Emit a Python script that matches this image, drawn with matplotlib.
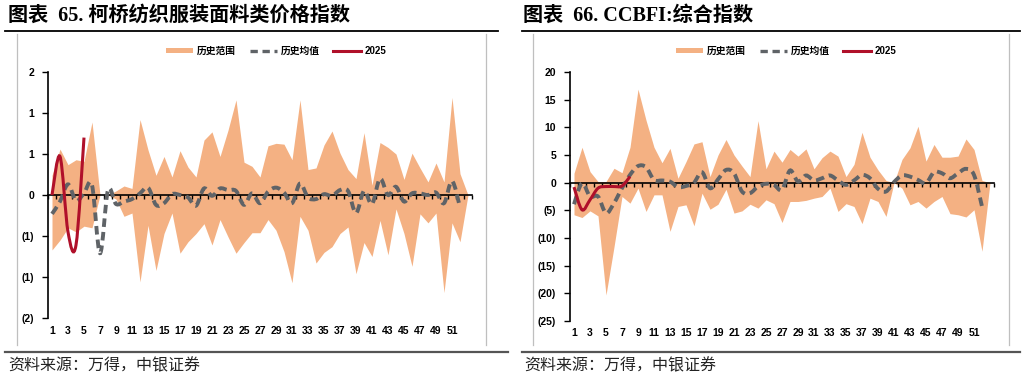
import matplotlib
matplotlib.use("Agg")
import matplotlib.pyplot as plt
import numpy as np
from matplotlib.path import Path
from matplotlib.patches import PathPatch
from matplotlib.lines import Line2D
from matplotlib.patches import Patch

# ---------------- data ----------------
weeks = list(range(1, 54))

# Left: 柯桥纺织服装面料类价格指数 (weekly change)
left_upper = [0.24, 0.56, 0.37, 0.43, 0.41, 0.89, 0.0, 0.0, 0.05, 0.11, 0.08, 0.92, 0.55, 0.24, 0.47,
              0.22, 0.54, 0.34, 0.22, 0.67, 0.77, 0.47, 0.79, 1.16, 0.40, 0.35, 0.22, 0.60, 0.63, 0.62,
              0.43, 1.16, 0.31, 0.33, 0.61, 0.78, 0.51, 0.31, 0.20, 0.76, 0.12, 0.64, 0.58, 0.50, 0.19,
              0.51, 0.33, 0.16, 0.39, 0.16, 1.19, 0.26, 0.0]
left_lower = [-0.67, -0.55, -0.40, -0.45, -0.38, -0.40, 0.0, 0.0, -0.05, -0.26, -0.22, -1.06, -0.37, -0.92, -0.47,
              -0.22, -0.71, -0.57, -0.47, -0.35, -0.61, -0.30, -0.51, -0.71, -0.58, -0.46, -0.46, -0.30, -0.43, -0.69,
              -1.07, -0.26, -0.43, -0.83, -0.70, -0.63, -0.47, -0.39, -0.96, -0.58, -0.75, -0.31, -0.73, -0.17, -0.47,
              -0.87, -0.23, -0.34, -0.22, -1.19, -0.34, -0.57, 0.0]
left_mean = [-0.23, -0.08, 0.13, -0.07, 0.02, 0.12, -0.71, 0.06, -0.11, -0.08, -0.05, 0.02, 0.09, -0.12, -0.10,
             0.01, 0.0, -0.03, -0.13, 0.08, -0.01, 0.08, 0.06, 0.05, -0.12, 0.02, -0.10, 0.04, 0.09, 0.03,
             -0.10, 0.14, -0.03, -0.05, 0.01, -0.01, 0.06, 0.05, -0.22, 0.05, -0.11, 0.20, 0.0, 0.10, -0.08,
             0.02, 0.02, 0.0, 0.03, -0.10, 0.17, -0.15]
left_2025 = [0.0, 0.47, -0.45, -0.61, 0.70]
left_yticks = [1.5, 1.0, 0.5, 0.0, -0.5, -1.0, -1.5]
left_yticklabels = ["2", "1", "1", "0", "(1)", "(1)", "(2)"]

# Right: CCBFI 综合指数
right_upper = [1.7, 6.4, 2.0, 0.2, 0.2, 2.6, 1.8, 6.4, 16.9, 11.3, 6.4, 3.6, 6.2, 0.8, 3.8,
               7.0, 7.4, 1.1, 5.0, 7.8, 5.0, 3.0, 1.1, 11.2, 2.5, 5.7, 3.7, 6.0, 4.8, 6.1,
               2.5, 4.5, 5.7, 4.8, 1.1, 3.3, 9.1, 4.6, 2.3, 0.4, 0.0, 4.2, 6.3, 10.2, 3.9,
               6.9, 4.6, 4.6, 4.8, 7.9, 6.0, 0.4, 0.0]
right_lower = [-5.8, -6.3, -5.1, -6.0, -20.3, -11.6, -2.5, -3.7, -1.0, -5.2, -2.2, -2.2, -8.8, -4.3, -4.0,
               -7.8, -1.9, -4.8, -3.9, -1.2, -5.5, -5.1, -3.9, -4.6, -3.1, -3.8, -7.2, -3.4, -3.4, -3.2,
               -2.8, -2.5, -1.0, -5.2, -3.8, -4.3, -7.4, -2.8, -3.4, -6.1, 0.0, -1.0, -4.0, -3.4, -4.6,
               -3.4, -2.5, -5.6, -5.8, -6.2, -4.9, -12.4, 0.0]
right_mean = [-3.9, -0.1, -2.5, -2.5, -5.5, -3.7, -1.0, 1.4, 3.0, 2.8, 0.5, 0.4, 0.2, -0.8, -0.6,
              0.0, 1.9, -1.0, 0.6, 2.3, 1.7, -1.6, -1.9, -0.7, -0.2, -0.4, -1.3, 2.2, 0.2, 1.3,
              0.4, 0.8, 1.3, 0.4, -0.4, 0.4, 1.4, 0.8, -1.1, -1.6, 0.1, 1.3, 1.1, 0.5, -0.1,
              1.9, 1.7, 0.8, 1.7, 2.5, 1.4, -4.3]
right_2025 = [-0.8, -4.9, -3.1, -1.0, -0.7, -0.7, -0.6, 1.1]
right_yticks = [20, 15, 10, 5, 0, -5, -10, -15, -20, -25]
right_yticklabels = ["20", "15", "10", "5", "0", "(5)", "(10)", "(15)", "(20)", "(25)"]

xlabels = [str(i) for i in range(1, 52, 2)]

title_left = "图表  65. 柯桥纺织服装面料类价格指数"
title_right = "图表  66. CCBFI:综合指数"
source_text = "资料来源：万得，中银证券"
leg_labels = ["历史范围", "历史均值", "2025"]

AREA = "#F4B183"
MEAN = "#5F6367"
RED = "#B0102A"

CJK = ["Noto Sans CJK SC", "DejaVu Sans"]
NUM = ["Liberation Sans", "Noto Sans CJK SC"]


def smooth_path(xs, ys):
    """Excel-like smoothed line as cubic Bezier path through the data points."""
    pts = np.column_stack([xs, ys]).astype(float)
    n = len(pts)
    verts = [pts[0]]
    codes = [Path.MOVETO]
    for i in range(n - 1):
        p0 = pts[i - 1] if i > 0 else pts[i]
        p1 = pts[i]
        p2 = pts[i + 1]
        p3 = pts[i + 2] if i + 2 < n else pts[i + 1]
        c1 = p1 + (p2 - p0) / 6.0
        c2 = p2 - (p3 - p1) / 6.0
        verts += [c1, c2, p2]
        codes += [Path.CURVE4] * 3
    return Path(verts, codes)


def draw_panel(ax, upper, lower, mean, cur, yticks, yticklabels, ylim, xlab_y):
    ax.fill_between(weeks, lower, upper, color=AREA, linewidth=0, zorder=1)
    pm = smooth_path(weeks[:len(mean)], mean)
    ax.add_patch(PathPatch(pm, facecolor="none", edgecolor=MEAN, lw=2.8,
                           linestyle=(0, (2.2, 1.3)), zorder=3, capstyle="butt"))
    pc = smooth_path(weeks[:len(cur)], cur)
    ax.add_patch(PathPatch(pc, facecolor="none", edgecolor=RED, lw=2.2, zorder=4))
    ax.set_xlim(0.5, 53.5)
    ax.set_ylim(*ylim)
    for s in ["top", "right"]:
        ax.spines[s].set_visible(False)
    ax.spines["bottom"].set_position(("data", 0))
    ax.spines["bottom"].set_linewidth(1.2)
    ax.spines["bottom"].set_zorder(2)
    ax.spines["left"].set_linewidth(1.2)
    ax.set_xticks(np.arange(0.5, 54, 1.0))
    ax.set_xticklabels([])
    ax.tick_params(axis="x", direction="out", length=3, width=1, color="black")
    ax.set_yticks(yticks)
    ax.set_yticklabels(yticklabels, fontfamily=NUM, fontweight="bold", fontsize=7.5)
    ax.tick_params(axis="y", direction="out", length=4, width=1, pad=6)
    tr = ax.get_xaxis_transform()
    for i, lab in zip(range(1, 52, 2), xlabels):
        ax.text(i, xlab_y, lab, transform=tr, ha="center", va="center",
                fontfamily=NUM, fontweight="bold", fontsize=7.5)
    ax.patch.set_alpha(0)


fig = plt.figure(figsize=(10.25, 3.79), dpi=100)
W, H = 1025.0, 379.0


def fx(px):
    return px / W


def fy(py):
    return 1 - py / H


axL = fig.add_axes([fx(48), fy(318), fx(472) - fx(48), fy(72) - fy(318)])
axR = fig.add_axes([fx(570), fy(321), fx(994) - fx(570), fy(72) - fy(321)])

draw_panel(axL, left_upper, left_lower, left_mean, left_2025, left_yticks, left_yticklabels,
           (-1.5, 1.5), -13 / 246)
draw_panel(axR, right_upper, right_lower, right_mean, right_2025, right_yticks, right_yticklabels,
           (-25, 20), -12 / 249)

# legends
handles = [Patch(facecolor=AREA, edgecolor="none"),
           Line2D([], [], color=MEAN, lw=2.4, linestyle=(0, (2.2, 1.4))),
           Line2D([], [], color=RED, lw=2.2)]
for cx in (276, 786):
    leg = fig.legend(handles, leg_labels, loc="center", bbox_to_anchor=(fx(cx), fy(51)),
                     ncol=3, frameon=False, handlelength=2.8, handleheight=0.5,
                     handletextpad=0.4, columnspacing=1.4,
                     prop={"family": CJK, "weight": "bold", "size": 7})
    for t in leg.get_texts():
        if t.get_text() == "2025":
            t.set_fontfamily(NUM)

# titles
title_family = ["Liberation Serif", "Noto Sans CJK SC"]
fig.text(fx(8), fy(16), title_left, fontfamily=title_family, fontweight="bold", fontsize=14.5,
         ha="left", va="center")
fig.text(fx(523), fy(16), title_right, fontfamily=title_family, fontweight="bold", fontsize=14.5,
         ha="left", va="center")

# decorative rules
def hline(x0, x1, y, color, lw):
    fig.add_artist(Line2D([fx(x0), fx(x1)], [fy(y), fy(y)], color=color, lw=lw,
                          transform=fig.transFigure))


def vline(x, y0, y1, color, lw):
    fig.add_artist(Line2D([fx(x), fx(x)], [fy(y0), fy(y1)], color=color, lw=lw,
                          transform=fig.transFigure))


hline(5, 498, 30.5, "black", 1.3)
hline(522, 1020, 30.5, "black", 1.3)
hline(5, 508, 352, "#555555", 1.6)
hline(522, 1020, 352, "#555555", 1.6)
for x in (16.5, 485.5, 532.5, 1008.5):
    vline(x, 34, 345, "#BFBFBF", 0.9)

# source
fig.text(fx(8), fy(366), source_text, fontfamily=CJK, fontsize=11.5, style="italic",
         ha="left", va="center", color="#222222")
fig.text(fx(524), fy(366), source_text, fontfamily=CJK, fontsize=11.5, style="italic",
         ha="left", va="center", color="#222222")

fig.savefig("out.png", dpi=100)
